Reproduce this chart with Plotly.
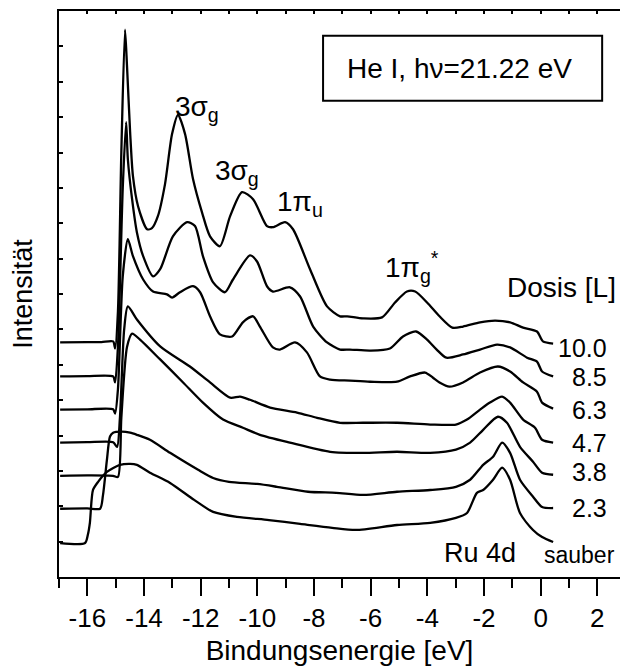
import plotly.graph_objects as go

# ---- data (binding energy in eV, stacked intensity in arbitrary units) ----
E10 = [-16.96, -16.0, -15.5, -15.09, -15.02, -14.92, -14.80, -14.67, -14.60, -14.49, -14.39, -14.21, -13.89, -13.72,
       -13.51, -13.26, -13.01, -12.80, -12.55, -12.27, -11.95, -11.67, -11.32, -10.96, -10.54, -10.15, -9.66, -9.45,
       -9.02, -8.74, -8.14, -7.54, -7.08, -6.83, -6.27, -5.60, -5.14, -4.72, -4.43, -4.01, -3.57, -3.12, -2.74, -2.14,
       -1.61, -1.08, -0.62, -0.13, 0.08, 0.44]
I10 = [6.63, 6.64, 6.64, 6.66, 6.46, 7.5, 12.0, 15.47, 14.45, 12.58, 11.33, 10.48, 9.83, 9.86, 10.20, 11.10, 12.52,
       13.06, 12.52, 11.25, 10.3, 9.63, 9.35, 10.20, 10.88, 10.68, 9.92, 9.89, 10.03, 9.83, 8.70, 7.65, 7.37, 7.37,
       7.31, 7.34, 7.76, 8.07, 8.07, 7.76, 7.37, 7.05, 7.08, 7.20, 7.25, 7.20, 7.05, 6.94, 6.66, 6.60]

E85 = [-16.96, -16.0, -15.09, -15.02, -14.92, -14.75, -14.63, -14.57, -14.42, -14.25, -14.03, -13.68, -13.43, -12.98,
       -12.48, -12.20, -11.92, -11.56, -11.14, -10.86, -10.26, -10.01, -9.66, -9.45, -8.85, -8.49, -8.03, -7.54, -7.08,
       -6.73, -6.02, -5.32, -4.86, -4.40, -4.01, -3.67, -3.33, -2.74, -2.14, -1.54, -1.08, -0.48, -0.13, 0.05, 0.44]
I85 = [5.67, 5.68, 5.67, 5.50, 6.5, 11.0, 12.86, 11.81, 10.68, 9.74, 9.07, 8.50, 8.70, 9.63, 10.03, 9.92, 9.07, 8.33,
       8.05, 8.41, 9.09, 8.92, 8.22, 8.07, 8.19, 7.93, 7.08, 6.63, 6.43, 6.43, 6.40, 6.46, 6.80, 6.94, 6.71, 6.43, 6.20,
       6.29, 6.43, 6.57, 6.49, 6.20, 6.09, 5.81, 5.67]

E63 = [-16.96, -16.0, -15.09, -15.02, -14.92, -14.75, -14.57, -14.39, -14.03, -13.68, -13.19, -13.01, -12.73, -12.27,
       -12.02, -11.67, -11.32, -10.89, -10.51, -10.15, -9.91, -9.45, -9.20, -8.67, -8.25, -7.79, -7.43, -6.73, -6.02,
       -5.07, -4.61, -4.08, -3.81, -3.57, -3.22, -2.74, -2.14, -1.51, -1.08, -0.62, -0.13, 0.05, 0.44]
I63 = [4.73, 4.74, 4.74, 4.62, 5.3, 8.5, 9.55, 9.07, 8.41, 8.07, 7.99, 7.90, 8.05, 8.22, 8.05, 7.37, 6.86, 6.80, 7.20,
       7.37, 7.08, 6.49, 6.43, 6.63, 6.35, 5.67, 5.58, 5.55, 5.52, 5.52, 5.67, 5.78, 5.64, 5.50, 5.38, 5.50, 5.78, 5.95,
       5.81, 5.50, 5.24, 4.93, 4.76]

E47 = [-16.96, -16.0, -15.09, -14.95, -14.85, -14.70, -14.57, -14.25, -13.43, -12.38, -11.67, -10.96, -10.61, -10.26,
       -9.55, -8.60, -7.89, -7.08, -6.27, -5.07, -3.90, -2.99, -2.60, -2.14, -1.79, -1.36, -1.08, -0.62, -0.20, 0.05,
       0.44]
I47 = [3.80, 3.81, 3.81, 3.68, 4.5, 7.0, 7.65, 7.28, 6.52, 5.95, 5.50, 5.07, 5.10, 5.01, 4.79, 4.65, 4.50, 4.36, 4.36,
       4.36, 4.31, 4.31, 4.45, 4.73, 4.93, 5.10, 4.93, 4.45, 4.22, 3.88, 3.80]

E38 = [-16.96, -16.0, -15.09, -14.92, -14.80, -14.60, -14.42, -14.14, -13.43, -12.62, -11.92, -11.21, -10.51, -9.91,
       -8.85, -7.43, -6.27, -5.07, -3.90, -2.99, -2.49, -2.03, -1.51, -1.19, -0.73, -0.27, 0.05, 0.44]
I38 = [2.86, 2.87, 2.86, 2.83, 4.5, 6.5, 6.88, 6.71, 6.15, 5.50, 4.93, 4.45, 4.22, 4.02, 3.80, 3.54, 3.51, 3.54, 3.51,
       3.60, 3.80, 4.16, 4.53, 4.36, 3.68, 3.26, 2.95, 2.89]

E23 = [-16.96, -16.0, -15.55, -15.45, -15.31, -15.20, -15.09, -14.78, -14.49, -14.25, -13.79, -13.08, -12.09, -11.56,
       -11.00, -10.01, -9.31, -8.21, -7.22, -6.27, -5.07, -3.90, -2.99, -2.49, -2.03, -1.68, -1.36, -1.08, -0.73, -0.27,
       0.05, 0.44]
I23 = [1.93, 1.94, 1.93, 2.3, 3.3, 3.97, 4.08, 4.11, 4.08, 4.02, 3.88, 3.51, 3.03, 2.80, 2.69, 2.63, 2.55, 2.41, 2.38,
       2.32, 2.41, 2.46, 2.55, 2.75, 3.17, 3.40, 3.80, 3.51, 2.75, 2.27, 1.98, 1.95]

E_clean = [-16.96, -16.08, -15.98, -15.91, -15.80, -15.62, -15.31, -14.85, -14.49, -14.25, -13.79, -13.08, -12.23,
           -11.56, -10.72, -9.59, -8.49, -7.36, -6.52, -5.07, -3.90, -2.99, -2.60, -2.25, -2.03, -1.68, -1.36, -1.08,
           -0.73, -0.27, 0.05, 0.44]
I_clean = [0.96, 0.96, 1.2, 1.53, 2.46, 2.69, 2.97, 3.17, 3.20, 3.17, 2.95, 2.66, 2.18, 1.84, 1.70, 1.61, 1.50, 1.39,
           1.33, 1.47, 1.53, 1.67, 1.81, 2.38, 2.46, 2.75, 3.09, 2.75, 1.81, 1.33, 1.13, 0.99]

dose_labels = ["10.0", "8.5", "6.3", "4.7", "3.8", "2.3", "sauber"]
x_ticks = [-16, -14, -12, -10, -8, -6, -4, -2, 0, 2]

curves_E = [E10, E85, E63, E47, E38, E23, E_clean]
curves_I = [I10, I85, I63, I47, I38, I23, I_clean]

FONT = "Liberation Sans, Arial, sans-serif"

fig = go.Figure()
for ex, iy, name in zip(curves_E, curves_I, dose_labels):
    fig.add_trace(go.Scatter(x=ex, y=iy, mode="lines", name=name,
                             line=dict(color="black", width=2.3, shape="spline", smoothing=0.7),
                             showlegend=False, hoverinfo="skip"))

# invisible trace for the top axis
fig.add_trace(go.Scatter(x=[-17, 2.8], y=[0, 0], xaxis="x2", mode="lines",
                         line=dict(width=0), showlegend=False, hoverinfo="skip"))

fig.update_layout(
    width=620, height=670,
    margin=dict(l=59, r=0, t=11, b=93),
    paper_bgcolor="white", plot_bgcolor="white",
    font=dict(family=FONT, color="black"),
    xaxis=dict(range=[-17, 2.8], tickvals=x_ticks, ticktext=[str(v) for v in x_ticks],
               ticks="outside", ticklen=17, tickwidth=2, tickcolor="black",
               minor=dict(dtick=1, tick0=0, ticks="outside", ticklen=9, tickwidth=2, tickcolor="black"),
               showline=True, linewidth=2, linecolor="black", showgrid=False, zeroline=False,
               tickfont=dict(size=26, family=FONT),
               title=dict(text="Bindungsenergie [eV]", font=dict(size=28, family=FONT), standoff=8)),
    xaxis2=dict(range=[-17, 2.8], overlaying="x", side="top", dtick=1, tick0=0,
                ticks="inside", ticklen=3, tickwidth=1.5, tickcolor="black",
                showline=True, linewidth=2, linecolor="black", showgrid=False, zeroline=False,
                showticklabels=False),
    yaxis=dict(range=[0, 16], dtick=1, tick0=0, ticks="inside", ticklen=4, tickwidth=2, tickcolor="black",
               showline=True, linewidth=2, linecolor="black", showgrid=False, zeroline=False,
               showticklabels=False,
               title=dict(text="Intensität", font=dict(size=27, family=FONT), standoff=17)),
)

# He I box
fig.add_shape(type="rect", xref="x", yref="y", x0=-7.68, x1=2.17, y0=13.46, y1=15.30,
              line=dict(color="black", width=2), fillcolor="rgba(0,0,0,0)")

ann = []
ann.append(dict(x=-2.86, y=14.38, text="He I, hν=21.22 eV", xanchor="center", yanchor="middle",
                font=dict(size=28)))
ann.append(dict(x=-12.98, y=13.25, text="3σ<sub>g</sub>", xanchor="left", yanchor="middle", font=dict(size=28)))
ann.append(dict(x=-11.57, y=11.44, text="3σ<sub>g</sub>", xanchor="left", yanchor="middle", font=dict(size=28)))
ann.append(dict(x=-9.38, y=10.57, text="1π<sub>u</sub>", xanchor="left", yanchor="middle", font=dict(size=28)))
ann.append(dict(x=-5.57, y=8.75, text="1π<sub>g</sub><sup>*</sup>", xanchor="left", yanchor="middle",
                font=dict(size=28)))
ann.append(dict(x=0.72, y=8.19, text="Dosis [L]", xanchor="center", yanchor="middle", font=dict(size=28)))
ann.append(dict(x=-2.14, y=0.68, text="Ru 4d", xanchor="center", yanchor="middle", font=dict(size=27)))

label_y = [6.46, 5.64, 4.73, 3.80, 2.97, 1.95, 0.62]
for lab, ly in zip(dose_labels, label_y):
    if lab == "sauber":
        ann.append(dict(x=2.70, y=ly, text=lab, xanchor="right", yanchor="middle", font=dict(size=23)))
    else:
        ann.append(dict(x=2.42, y=ly, text=lab, xanchor="right", yanchor="middle", font=dict(size=25)))

for a in ann:
    a.update(xref="x", yref="y", showarrow=False)
    a["font"].update(family=FONT, color="black")
fig.update_layout(annotations=ann)

fig.write_html("out.html")
